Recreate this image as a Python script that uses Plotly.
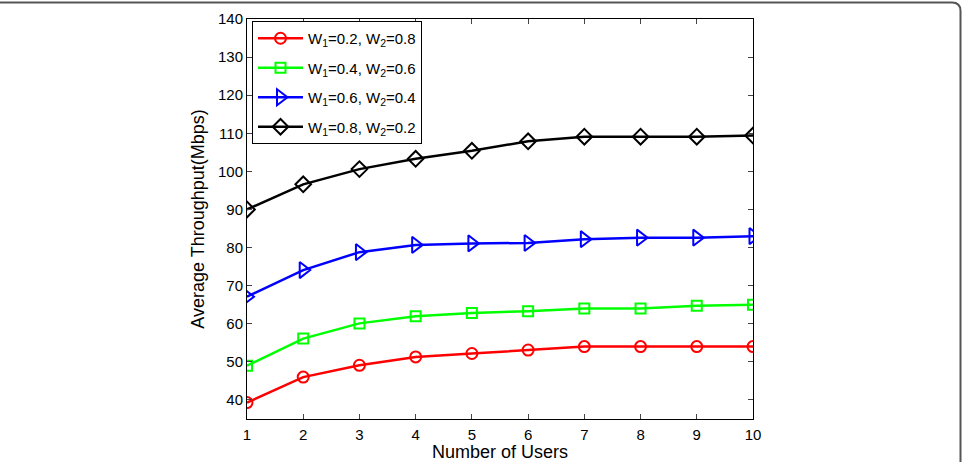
import plotly.graph_objects as go

users = [1, 2, 3, 4, 5, 6, 7, 8, 9, 10]
w02 = [39.3, 46.0, 49.1, 51.3, 52.2, 53.1, 54.0, 54.0, 54.0, 54.0]
w04 = [49.0, 56.1, 60.1, 62.0, 62.8, 63.3, 64.0, 64.0, 64.7, 65.0]
w06 = [67.1, 74.1, 78.8, 80.7, 81.1, 81.2, 82.2, 82.6, 82.6, 83.0]
w08 = [90.0, 96.6, 100.6, 103.3, 105.4, 107.9, 109.1, 109.1, 109.1, 109.4]

names = ["W<sub>1</sub>=0.2, W<sub>2</sub>=0.8",
         "W<sub>1</sub>=0.4, W<sub>2</sub>=0.6",
         "W<sub>1</sub>=0.6, W<sub>2</sub>=0.4",
         "W<sub>1</sub>=0.8, W<sub>2</sub>=0.2"]
series = [w02, w04, w06, w08]
colors = ["#ff0000", "#00ff00", "#0000ff", "#000000"]
symbols = ["circle-open", "square-open", "triangle-right-open", "diamond-open"]
sizes = [11, 10, 14, 12]

fig = go.Figure()
for i in range(4):
    fig.add_trace(go.Scatter(
        x=users, y=series[i], name=names[i], mode="lines+markers",
        legendgroup="g%d" % i,
        line=dict(color=colors[i], width=2.5),
        marker=dict(symbol=symbols[i], size=sizes[i], color=colors[i],
                    line=dict(color=colors[i], width=2)),
    ))

W, H = 962, 462
L, R, T, B = 247, 753, 19, 419

def px(p):
    return (p - L) / (R - L)

def py(q):
    return (B - q) / (B - T)

frame = ("M{},{} L{},{} Q{},{} {},{} L{},{}".format(
    px(-2), py(2.5), px(952), py(2.5), px(960.5), py(2.5),
    px(960.5), py(11), px(960.5), py(465)))

font = "Liberation Sans, Arial, Helvetica, sans-serif"
fig.update_layout(
    width=W, height=H,
    margin=dict(l=L, r=W - R, t=T, b=H - B),
    paper_bgcolor="white", plot_bgcolor="white",
    font=dict(family=font, size=15, color="black"),
    showlegend=True,
    legend=dict(x=px(252), y=py(21), xanchor="left", yanchor="top",
                bordercolor="black", borderwidth=1, bgcolor="white",
                font=dict(size=15), tracegroupgap=7, itemwidth=45),
    xaxis=dict(range=[1, 10], tickvals=users, ticks="inside", ticklen=5,
               showline=True, linecolor="black", linewidth=1, mirror="ticks",
               showgrid=False, zeroline=False, ticklabelstandoff=2,
               automargin=False,
               title=dict(text="Number of Users", standoff=4)),
    yaxis=dict(range=[35, 140], tickvals=list(range(40, 141, 10)),
               ticks="inside", ticklen=5,
               showline=True, linecolor="black", linewidth=1, mirror="ticks",
               showgrid=False, zeroline=False, automargin=False,
               title=dict(text="Average Throughput(Mbps)", standoff=8)),
    shapes=[dict(type="path", xref="paper", yref="paper", path=frame,
                 line=dict(color="#555555", width=2), layer="above")],
)

fig.write_html("out.html")
